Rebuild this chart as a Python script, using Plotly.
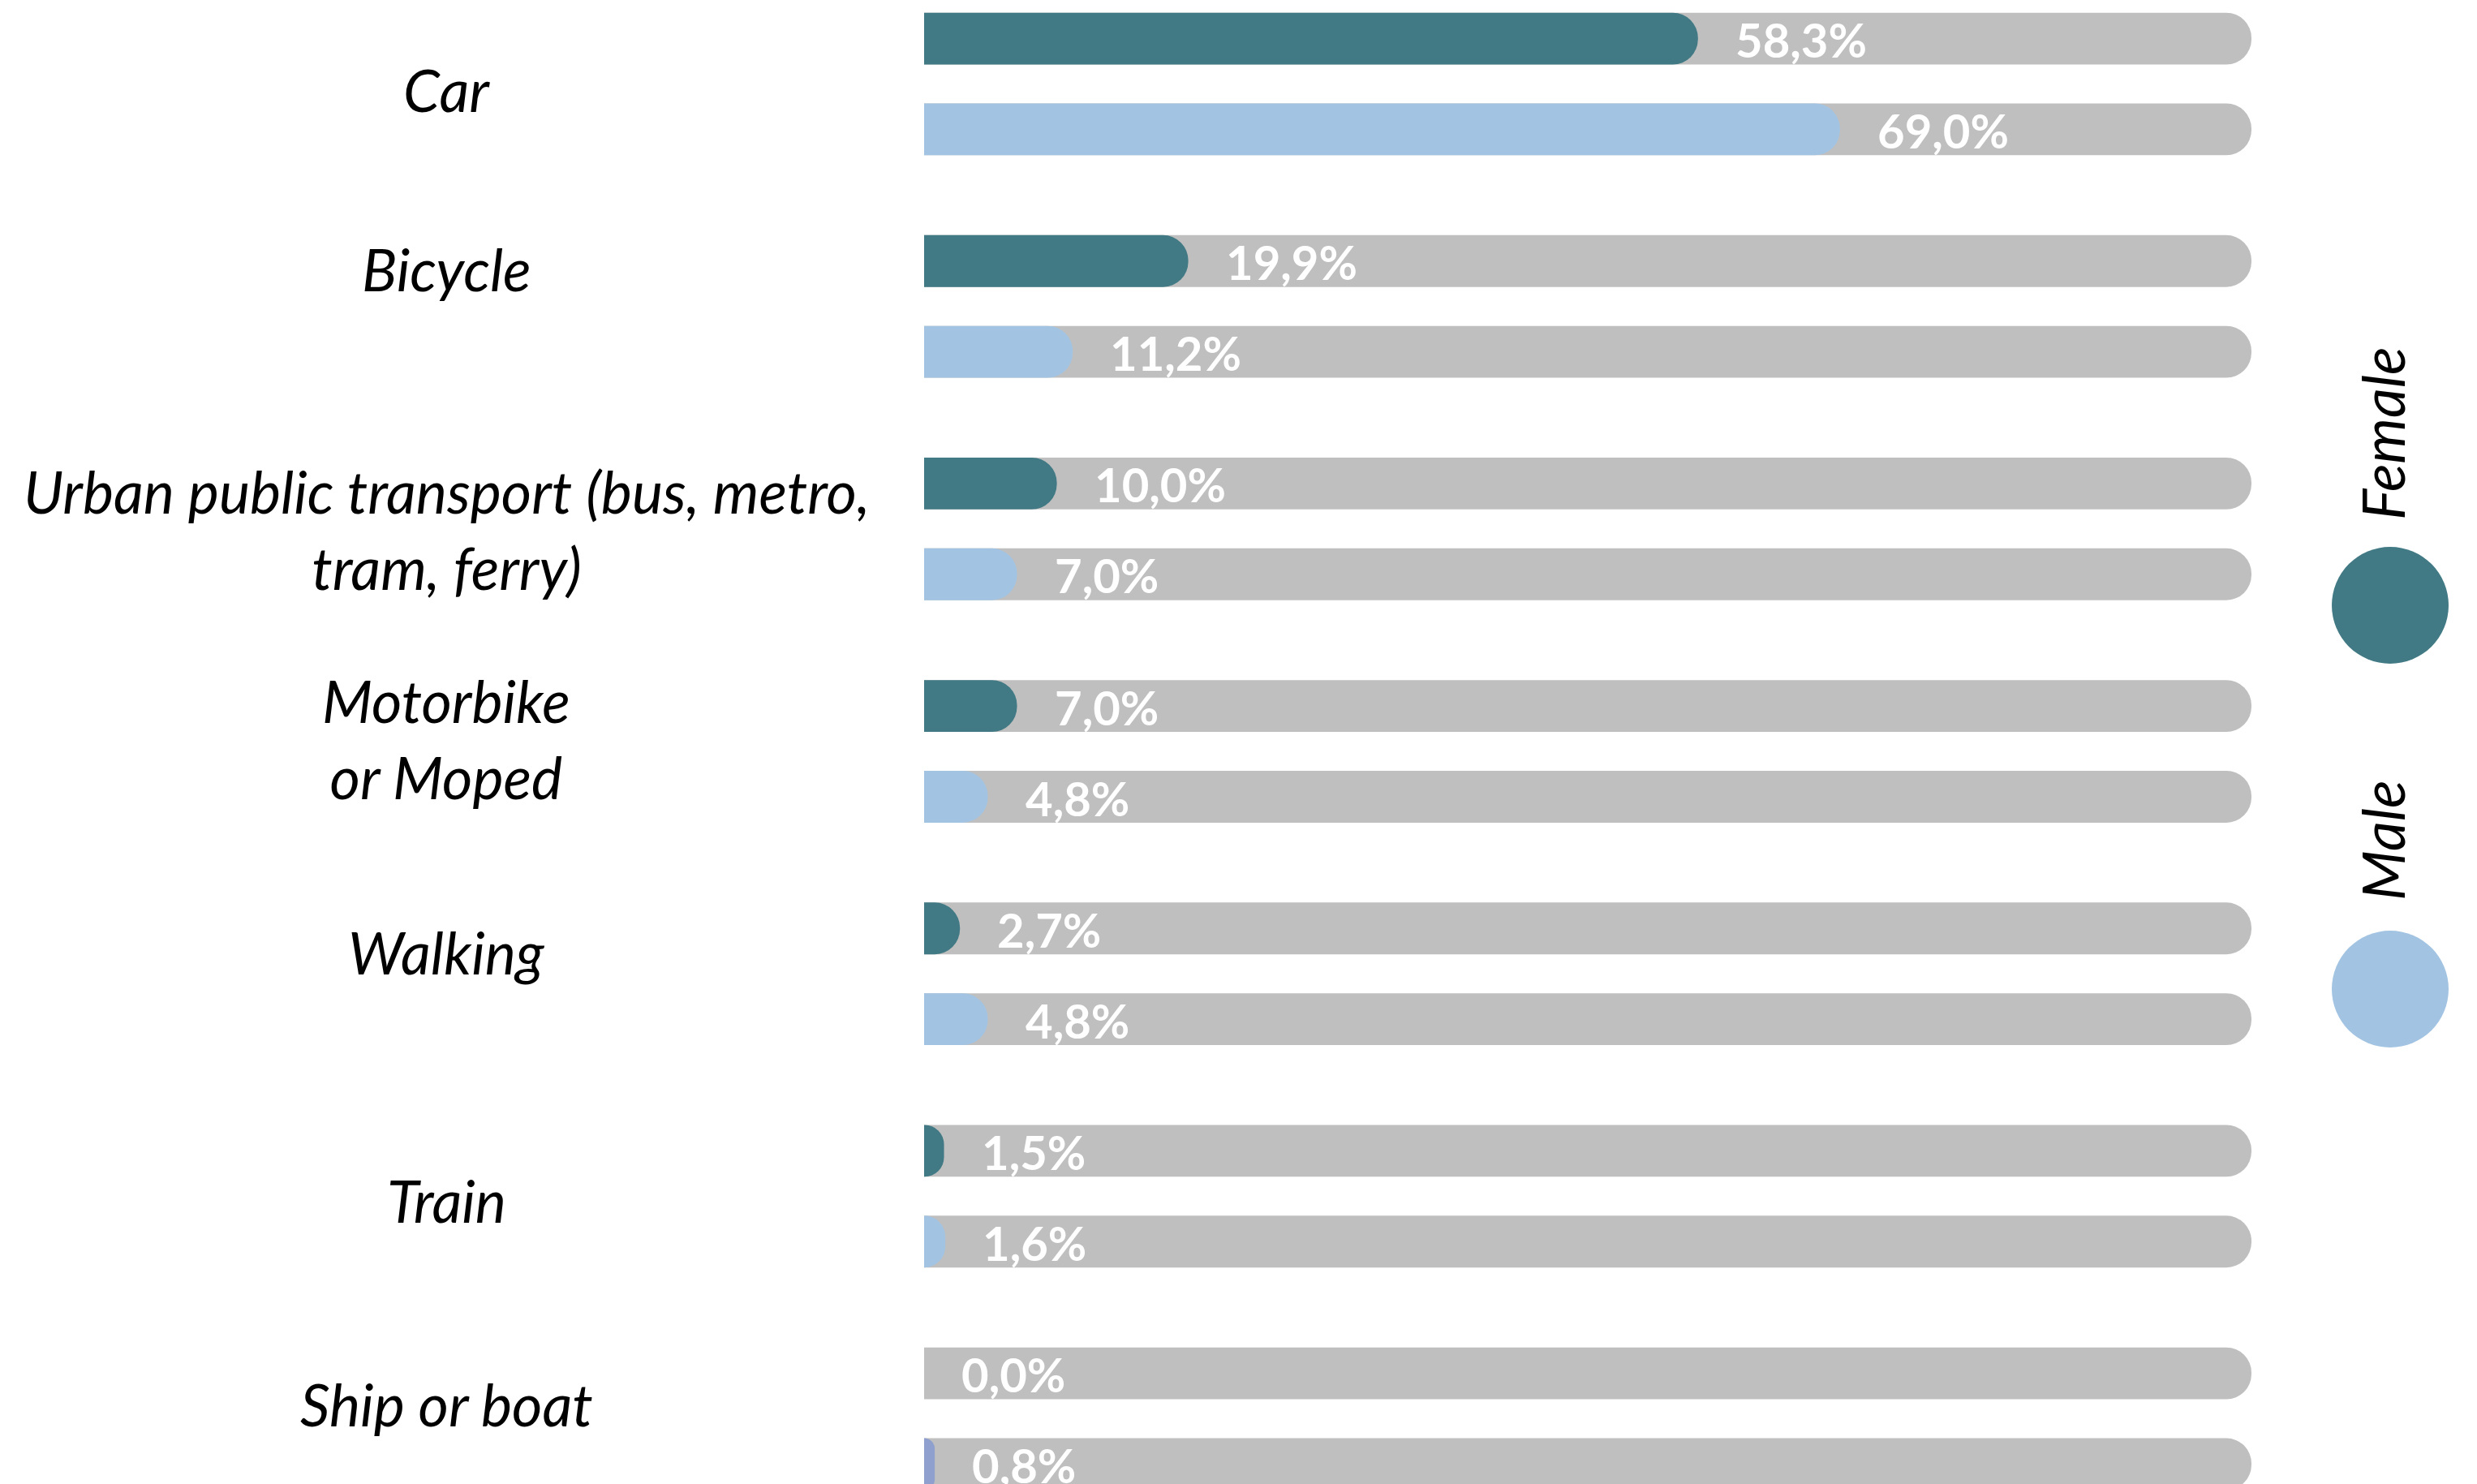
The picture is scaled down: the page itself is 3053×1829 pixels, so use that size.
import plotly.graph_objects as go

categories = ["Car", "Bicycle", "Urban public transport (bus, metro, tram, ferry)",
              "Motorbike or Moped", "Walking", "Train", "Ship or boat"]
category_labels = ["Car", "Bicycle", "Urban public transport (bus, metro,<br>tram, ferry)",
                   "Motorbike<br>or Moped", "Walking", "Train", "Ship or boat"]
female = [58.3, 19.9, 10.0, 7.0, 2.7, 1.5, 0.0]
male = [69.0, 11.2, 7.0, 4.8, 4.8, 1.6, 0.8]
track_max = 100
series_names = ["Female", "Male"]

# styling
C_F = "#417A84"
C_M = "#A2C4E2"
C_M_ALT = "#8FA0CF"
C_T = "#BFBFBF"
male_colors = [C_M] * 6 + [C_M_ALT]
label_yshift = [-6, 47, 0, 16, 27, -4, 19]

W, H = 3053, 1829
bar_w = 0.233
off_f = -0.321
off_m = 0.087

def fmt(v):
    return f"{v:.1f}".replace(".", ",") + "%"

fig = go.Figure()
for off in (off_f, off_m):
    fig.add_trace(go.Bar(y=categories, x=[track_max] * len(categories), orientation="h",
                         offset=off, width=bar_w, xaxis="x", yaxis="y",
                         marker=dict(color=C_T, cornerradius="50%", line_width=0),
                         showlegend=False, hoverinfo="skip"))
fig.add_trace(go.Bar(y=categories, x=female, orientation="h", offset=off_f, width=bar_w,
                     xaxis="x2", yaxis="y",
                     name=series_names[0], marker=dict(color=C_F, cornerradius="50%", line_width=0),
                     showlegend=False))
fig.add_trace(go.Bar(y=categories, x=male, orientation="h", offset=off_m, width=bar_w,
                     xaxis="x3", yaxis="y",
                     name=series_names[1], marker=dict(color=male_colors, cornerradius="50%", line_width=0),
                     showlegend=False))

label_font = dict(family="Lato", size=58, color="white")
annotations = []
for cat, fv, mv in zip(categories, female, male):
    annotations.append(dict(x=fv, y=cat, xref="x", yref="y", text="<b>" + fmt(fv) + "</b>",
                            showarrow=False, xanchor="left", yanchor="middle", xshift=44, yshift=55,
                            font=label_font))
    annotations.append(dict(x=mv, y=cat, xref="x", yref="y", text="<b>" + fmt(mv) + "</b>",
                            showarrow=False, xanchor="left", yanchor="middle", xshift=44, yshift=-57,
                            font=label_font))

cat_font = dict(family="Lato", size=72, color="black")
for cat, lab, ys in zip(categories, category_labels, label_yshift):
    annotations.append(dict(x=550 / W, y=cat, xref="paper", yref="y", text="<i>" + lab + "</i>",
                            showarrow=False, xanchor="center", yanchor="middle", align="center",
                            yshift=ys, font=cat_font))

# legend
leg = [(series_names[0], C_F, 535, 746), (series_names[1], C_M, 1036, 1219)]
shapes = []
for name, col, ty, cy in leg:
    annotations.append(dict(x=2936 / W, y=1 - ty / H, xref="paper", yref="paper", text="<i>" + name + "</i>",
                            showarrow=False, textangle=-90, xanchor="center", yanchor="middle",
                            font=cat_font))
    shapes.append(dict(type="circle", xref="paper", yref="paper", xsizemode="pixel", ysizemode="pixel",
                       xanchor=2946 / W, yanchor=1 - cy / H, x0=-72, x1=72, y0=-72, y1=72,
                       fillcolor=col, line_width=0))

xdom = [1139 / W, 2775 / W]
fig.update_layout(
    width=W, height=H, barmode="overlay",
    margin=dict(l=0, r=0, t=0, b=0),
    paper_bgcolor="white", plot_bgcolor="white",
    xaxis=dict(domain=xdom, range=[0, track_max], visible=False, fixedrange=True),
    xaxis2=dict(domain=xdom, range=[0, track_max], visible=False, overlaying="x", matches="x"),
    xaxis3=dict(domain=xdom, range=[0, track_max], visible=False, overlaying="x", matches="x"),
    yaxis=dict(domain=[0, 1], range=[6.293, -0.378], visible=False, type="category",
               categoryorder="array", categoryarray=categories),
    annotations=annotations, shapes=shapes,
)
fig.write_html("out.html")
